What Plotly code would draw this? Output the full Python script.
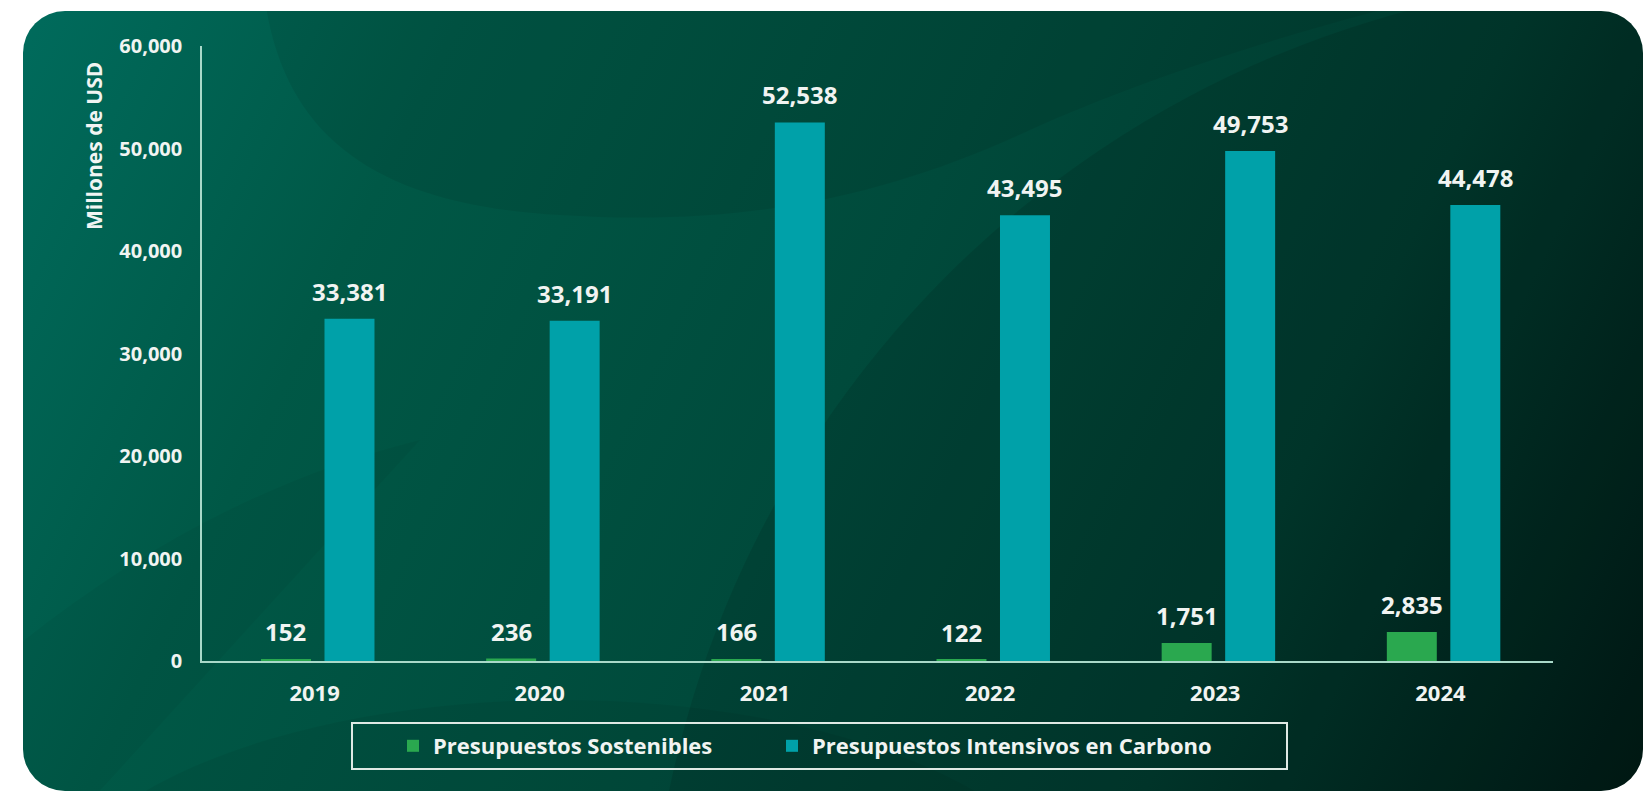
import base64
import plotly.graph_objects as go

# ---------------- data ----------------
years = ["2019", "2020", "2021", "2022", "2023", "2024"]
sostenibles = [152, 236, 166, 122, 1751, 2835]
intensivos = [33381, 33191, 52538, 43495, 49753, 44478]
y_ticks = [0, 10000, 20000, 30000, 40000, 50000, 60000]
series_names = ["Presupuestos Sostenibles", "Presupuestos Intensivos en Carbono"]
y_title = "Millones de USD"

# ---------------- layout constants ----------------
W, H = 1644, 791
L, R, T, B = 202, 91, 46, 130
PW, PH = W - L - R, H - T - B

GREEN = "#2aa84f"
TEAL = "#00a1a9"
TXT = "#f1f4f2"
AXIS = "#a9d9c9"
FONT = "Open Sans"

BAR_W = 0.222
OFFSETS = [-0.238, 0.044]
COLORS = [GREEN, TEAL]
LEGENDS = ["legend", "legend2"]
series_vals = [sostenibles, intensivos]


def px_x(p):
    return (p - L) / PW


def px_y(p):
    return (H - B - p) / PH


# ---------------- background card (svg) ----------------
svg = f"""<svg xmlns='http://www.w3.org/2000/svg' width='{W}' height='{H}' viewBox='0 0 {W} {H}'>
<defs>
<linearGradient id='g' gradientUnits='userSpaceOnUse' x1='23' y1='11' x2='1644' y2='791'>
<stop offset='0' stop-color='#006b5c'/>
<stop offset='0.22' stop-color='#005846'/>
<stop offset='0.5' stop-color='#004a3b'/>
<stop offset='0.75' stop-color='#003a2e'/>
<stop offset='1' stop-color='#001a15'/>
</linearGradient>
<clipPath id='c'><rect x='23' y='11' width='1620' height='780' rx='42' ry='42'/></clipPath>
</defs>
<rect x='0' y='0' width='{W}' height='{H}' fill='#ffffff'/>
<rect x='23' y='11' width='1620' height='780' rx='42' ry='42' fill='url(#g)'/>
<g clip-path='url(#c)'>
<path d='M 265 0 C 285 140 380 205 560 215 C 760 228 900 190 1030 130 C 1150 75 1300 30 1420 0 Z' fill='#000' opacity='0.07'/>
<circle cx='1668' cy='997' r='1020' fill='#000' opacity='0.10'/>
<ellipse cx='560' cy='930' rx='520' ry='230' fill='#000' opacity='0.05'/>
<path d='M 0 660 C 120 560 260 480 420 440 L 0 900 Z' fill='#000' opacity='0.04'/>
</g>
</svg>"""
svg_uri = "data:image/svg+xml;base64," + base64.b64encode(svg.encode("utf-8")).decode("ascii")

# ---------------- figure ----------------
fig = go.Figure()
for name, vals, col, off, lg in zip(series_names, series_vals, COLORS, OFFSETS, LEGENDS):
    fig.add_trace(go.Bar(
        x=years, y=vals, name=name, legend=lg,
        marker=dict(color=col, line=dict(width=0)),
        width=BAR_W, offset=off,
        hoverinfo="x+y+name",
    ))

annotations = []
for vals, off in zip(series_vals, OFFSETS):
    for i, v in enumerate(vals):
        annotations.append(dict(
            x=i + off + BAR_W / 2, y=v, xref="x", yref="y",
            text=f"{v:,}", showarrow=False,
            xanchor="center", yanchor="bottom", yshift=9,
            font=dict(family=FONT, size=24, color=TXT, weight="bold"),
        ))

annotations.append(dict(
    x=px_x(94), y=px_y(146), xref="paper", yref="paper",
    text=y_title, textangle=-90, showarrow=False,
    xanchor="center", yanchor="middle",
    font=dict(family=FONT, size=21, color=TXT, weight="bold"),
))

shapes = [dict(
    type="rect", xref="paper", yref="paper",
    x0=px_x(352), x1=px_x(1287), y0=px_y(723), y1=px_y(769),
    line=dict(color="#dfe9e4", width=2), fillcolor="rgba(0,0,0,0)", layer="above",
)]

legend_common = dict(
    orientation="h", xref="container", yref="container",
    xanchor="left", y=1 - 746 / H, yanchor="middle",
    bgcolor="rgba(0,0,0,0)", borderwidth=0,
    font=dict(family=FONT, size=22, color=TXT, weight="bold"),
    itemwidth=30,
)

fig.update_layout(
    width=W, height=H,
    margin=dict(l=L, r=R, t=T, b=B, autoexpand=False),
    paper_bgcolor="#ffffff",
    plot_bgcolor="rgba(0,0,0,0)",
    barmode="overlay",
    showlegend=True,
    font=dict(family=FONT, color=TXT),
    images=[dict(
        source=svg_uri, xref="paper", yref="paper",
        x=-L / PW, y=1 + T / PH, sizex=W / PW, sizey=H / PH,
        xanchor="left", yanchor="top", sizing="stretch", layer="below",
    )],
    xaxis=dict(
        type="category", range=[-0.5, len(years) - 0.5],
        showgrid=False, zeroline=False,
        showline=True, linecolor=AXIS, linewidth=2,
        ticks="", ticklabelstandoff=12,
        tickfont=dict(family=FONT, size=22, color=TXT, weight="bold"),
    ),
    yaxis=dict(
        range=[0, 60000], tickvals=y_ticks, tickformat=",",
        showgrid=False, zeroline=False,
        showline=True, linecolor=AXIS, linewidth=1.5,
        ticks="", ticklabelstandoff=14,
        tickfont=dict(family=FONT, size=20, color=TXT, weight="bold"),
    ),
    legend=dict(legend_common, x=393 / W),
    legend2=dict(legend_common, x=772 / W),
    annotations=annotations,
    shapes=shapes,
)

fig.write_html(
    "out.html",
    config={"displayModeBar": False},
    post_script="document.body.style.margin='0px';document.body.style.overflow='hidden';",
)
